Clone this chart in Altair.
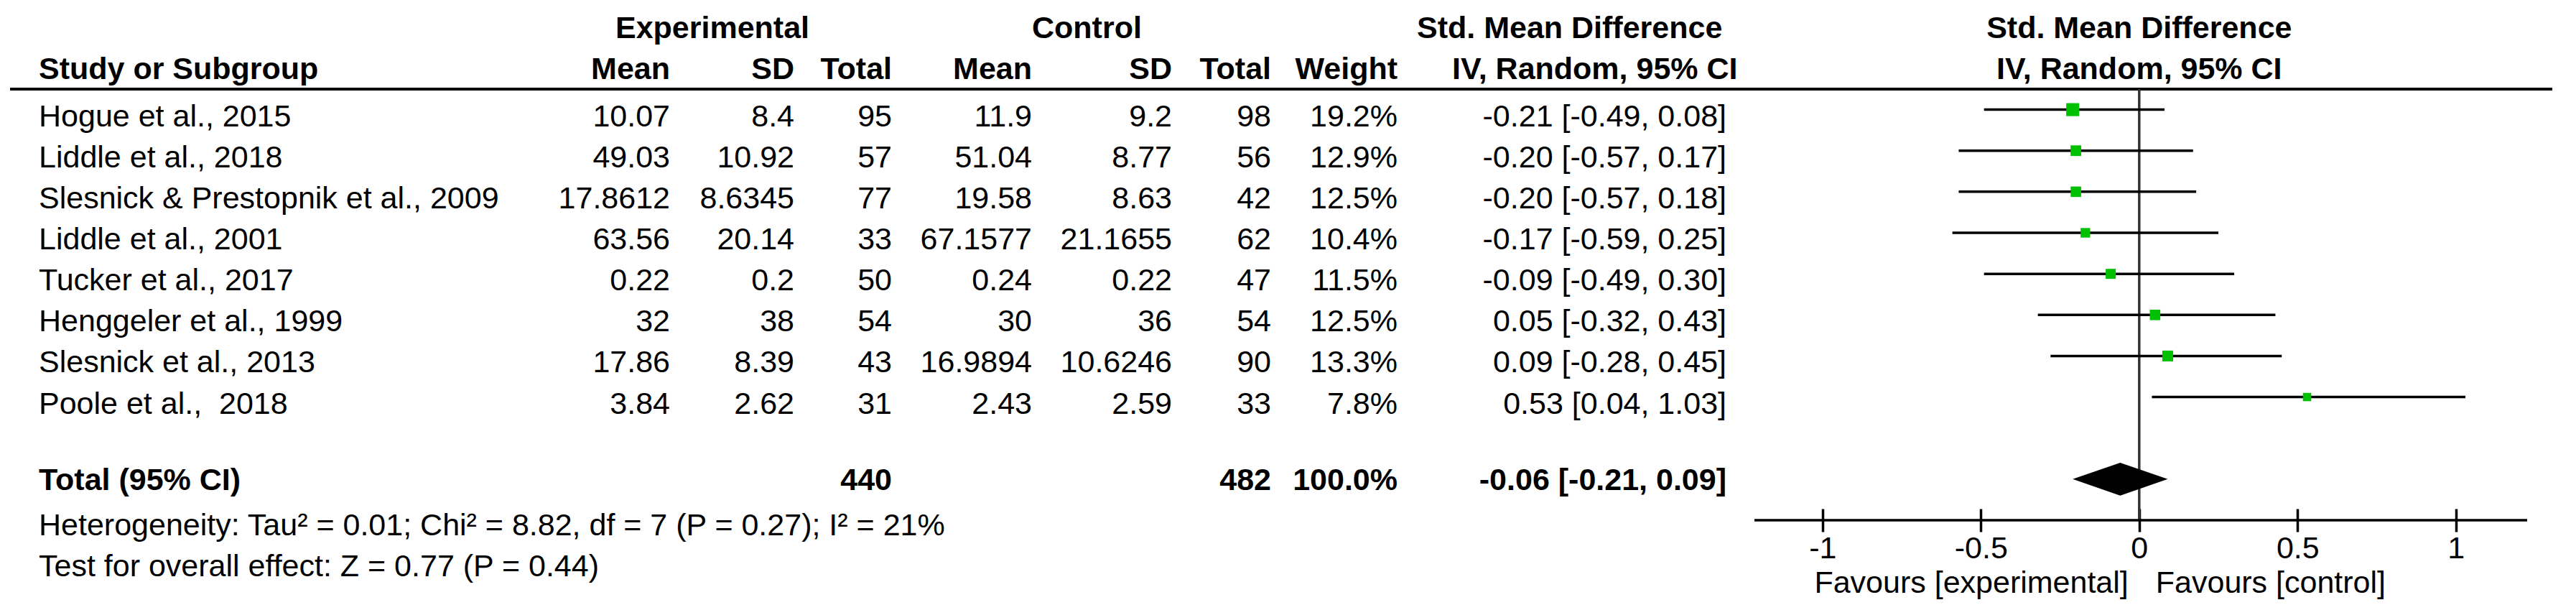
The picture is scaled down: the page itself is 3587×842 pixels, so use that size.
import altair as alt
import pandas as pd

# ---------------- data ----------------
studies = ["Hogue et al., 2015", "Liddle et al., 2018", "Slesnick & Prestopnik et al., 2009",
           "Liddle et al., 2001", "Tucker et al., 2017", "Henggeler et al., 1999",
           "Slesnick et al., 2013", "Poole et al.,\u00a0 2018"]
exp_mean = [10.07, 49.03, 17.8612, 63.56, 0.22, 32, 17.86, 3.84]
exp_sd = [8.4, 10.92, 8.6345, 20.14, 0.2, 38, 8.39, 2.62]
exp_n = [95, 57, 77, 33, 50, 54, 43, 31]
ctl_mean = [11.9, 51.04, 19.58, 67.1577, 0.24, 30, 16.9894, 2.43]
ctl_sd = [9.2, 8.77, 8.63, 21.1655, 0.22, 36, 10.6246, 2.59]
ctl_n = [98, 56, 42, 62, 47, 54, 90, 33]
weight = [19.2, 12.9, 12.5, 10.4, 11.5, 12.5, 13.3, 7.8]
smd = [-0.21, -0.20, -0.20, -0.17, -0.09, 0.05, 0.09, 0.53]
ci_lo = [-0.49, -0.57, -0.57, -0.59, -0.49, -0.32, -0.28, 0.04]
ci_hi = [0.08, 0.17, 0.18, 0.25, 0.30, 0.43, 0.45, 1.03]

total_exp_n = 440
total_ctl_n = 482
total_weight = 100.0
total_smd = -0.06
total_lo = -0.21
total_hi = 0.09
heterogeneity = "Heterogeneity: Tau² = 0.01; Chi² = 8.82, df = 7 (P = 0.27); I² = 21%"
overall = "Test for overall effect: Z = 0.77 (P = 0.44)"
tick_values = [-1, -0.5, 0, 0.5, 1]
x_extent = [-1.215, 1.225]

# ---------------- tables ----------------
rows = list(range(1, len(studies) + 1))
df = pd.DataFrame({
    "row": rows,
    "study": studies,
    "em": [str(v) for v in exp_mean],
    "esd": [str(v) for v in exp_sd],
    "en": [str(v) for v in exp_n],
    "cm": [str(v) for v in ctl_mean],
    "csd": [str(v) for v in ctl_sd],
    "cn": [str(v) for v in ctl_n],
    "w": [f"{v:.1f}%" for v in weight],
    "wv": weight,
    "ci": [f"{s:.2f} [{l:.2f}, {h:.2f}]" for s, l, h in zip(smd, ci_lo, ci_hi)],
    "smd": smd,
    "lo": ci_lo,
    "hi": ci_hi,
})
TOTAL_ROW = 10
tot = pd.DataFrame({
    "row": [TOTAL_ROW],
    "study": ["Total (95% CI)"],
    "en": [str(total_exp_n)],
    "cn": [str(total_ctl_n)],
    "w": [f"{total_weight:.1f}%"],
    "ci": [f"{total_smd:.2f} [{total_lo:.2f}, {total_hi:.2f}]"],
})
half_h = 0.4
diamond = pd.DataFrame({
    "x": [total_lo, total_smd, total_hi],
    "yt": [TOTAL_ROW, TOTAL_ROW - half_h, TOTAL_ROW],
    "yb": [TOTAL_ROW, TOTAL_ROW + half_h, TOTAL_ROW],
})

# ---------------- style ----------------
FONT = "Liberation Sans"
FS = 43
W, H = 3571, 826

ys = alt.Scale(domain=[0.5, 11], range=[116, 716], nice=False, zero=False)
xs = alt.Scale(domain=x_extent, range=[2435, 3511], nice=False, zero=False)
xaxis = alt.Axis(values=tick_values, labelExpr="'' + datum.value", domain=False, grid=False,
                 tickSize=32, tickWidth=3.5, tickColor="black", labelFont=FONT,
                 labelFontSize=FS, labelColor="black", labelPadding=2, offset=-126,
                 title=None, labelFlush=False, labelOverlap=False)


def Y(field="row"):
    return alt.Y(f"{field}:Q", scale=ys, axis=None)


def X(field):
    return alt.X(f"{field}:Q", scale=xs, axis=xaxis)


def text_layer(data, field, xpos, align, dy, bold=False):
    return alt.Chart(data).mark_text(
        align=align, baseline="alphabetic", font=FONT, fontSize=FS,
        fontWeight="bold" if bold else "normal", color="black", dy=dy
    ).encode(x=alt.value(xpos), y=Y(), text=f"{field}:N")


layers = []

# column layout (pixel positions of the table columns)
cols = [("study", 46, "left"), ("em", 925, "right"), ("esd", 1098, "right"),
        ("en", 1234, "right"), ("cm", 1429, "right"), ("csd", 1624, "right"),
        ("cn", 1762, "right"), ("w", 1938, "right"), ("ci", 2396, "right")]
for f, xp, al in cols:
    layers.append(text_layer(df, f, xp, al, 23))
for f, xp, al in cols:
    if f in tot.columns:
        layers.append(text_layer(tot, f, xp, al, 15, bold=True))

# headers
hdr1 = [("Experimental", 849, "left"), ("Control", 1429, "left"),
        ("Std. Mean Difference", 1965, "left")]
hdr2 = [("Study or Subgroup", 46, "left"), ("Mean", 925, "right"), ("SD", 1098, "right"),
        ("Total", 1234, "right"), ("Mean", 1429, "right"), ("SD", 1624, "right"),
        ("Total", 1762, "right"), ("Weight", 1938, "right"),
        ("IV, Random, 95% CI", 2014, "left")]
for rown, lst in [(-1, hdr1), (0, hdr2)]:
    for t, xp, al in lst:
        layers.append(text_layer(pd.DataFrame({"row": [rown], "t": [t]}), "t", xp, al, 15, bold=True))

# plot headers centred on zero
ph = pd.DataFrame({"v": [0, 0], "row": [-1, 0],
                   "t": ["Std. Mean Difference", "IV, Random, 95% CI"]})
layers.append(alt.Chart(ph).mark_text(align="center", baseline="alphabetic", font=FONT,
                                      fontSize=FS, fontWeight="bold", color="black", dy=15)
              .encode(x=X("v"), y=Y(), text="t:N"))

# footers
foot = pd.DataFrame({"row": [11, 12], "t": [heterogeneity, overall]})
layers.append(text_layer(foot, "t", 46, "left", 21))

# favours labels
fav = pd.DataFrame({"v": [0], "row": [12], "a": ["Favours [experimental]"], "b": ["Favours [control]"]})
layers.append(alt.Chart(fav).mark_text(align="right", baseline="alphabetic", font=FONT, fontSize=FS,
                                       color="black", dx=-15, dy=44)
              .encode(x=X("v"), y=Y(), text="a:N"))
layers.append(alt.Chart(fav).mark_text(align="left", baseline="alphabetic", font=FONT, fontSize=FS,
                                       color="black", dx=23, dy=44)
              .encode(x=X("v"), y=Y(), text="b:N"))

# header rule
hl = pd.DataFrame({"row": [0.5]})
layers.append(alt.Chart(hl).mark_rule(color="black", strokeWidth=4)
              .encode(x=alt.value(6), x2=alt.value(3546), y=Y()))

# zero line
zl = pd.DataFrame({"v": [0], "top": [0.5], "bot": [11]})
layers.append(alt.Chart(zl).mark_rule(color="#333333", strokeWidth=3.5)
              .encode(x=X("v"), y=Y("top"), y2="bot:Q"))

# axis line
al_df = pd.DataFrame({"a": [x_extent[0]], "b": [x_extent[1]], "row": [11]})
layers.append(alt.Chart(al_df).mark_rule(color="black", strokeWidth=3.5)
              .encode(x=X("a"), x2="b:Q", y=Y()))

# CI lines
layers.append(alt.Chart(df).mark_rule(color="black", strokeWidth=3.5)
              .encode(x=X("lo"), x2="hi:Q", y=Y()))

# squares
layers.append(alt.Chart(df).mark_square(color="#00C000", filled=True, opacity=1)
              .encode(x=X("smd"), y=Y(),
                      size=alt.Size("wv:Q", scale=alt.Scale(domain=[0, 20], range=[0, 340]), legend=None)))

# diamond
layers.append(alt.Chart(diamond).mark_area(color="black", opacity=1)
              .encode(x=X("x"), y=Y("yt"), y2="yb:Q"))

chart = alt.layer(*layers).properties(
    width=W, height=H, autosize=alt.AutoSizeParams(type="none"), padding=0,
    background="white"
).configure_view(stroke=None)

chart.save("out.html", embed_options={"renderer": "svg", "actions": False})
